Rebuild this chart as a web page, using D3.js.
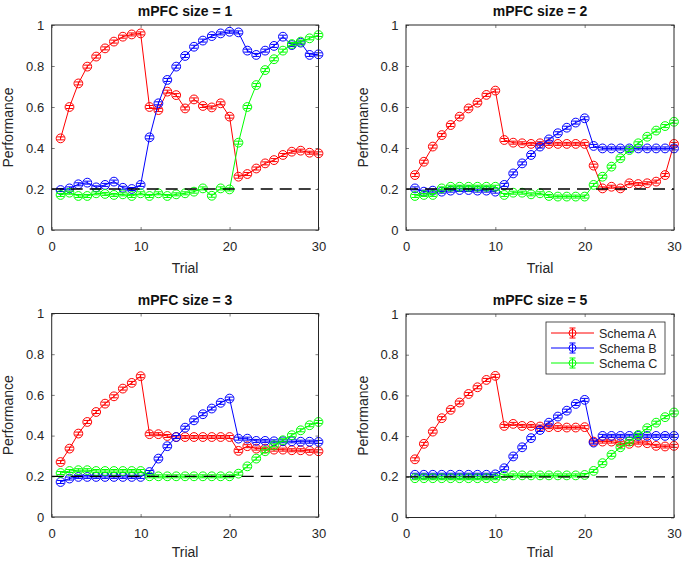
<!DOCTYPE html>
<html><head><meta charset="utf-8">
<script src="https://cdn.jsdelivr.net/npm/d3@7"></script>
<style>body{margin:0;background:#fff}svg{display:block;font-family:"Liberation Sans",Arial,Helvetica,sans-serif}</style>
</head><body><svg id="c" width="685" height="561"></svg>
<script>
const trials = d3.range(1, 31);
const seriesNames = ["Schema A", "Schema B", "Schema C"];
const seriesColors = ["#ff0000", "#0000ff", "#00ff00"];
const panelTitles = ["mPFC size = 1", "mPFC size = 2", "mPFC size = 3", "mPFC size = 5"];
const xTicks = [0, 10, 20, 30];
const yTicks = [0, 0.2, 0.4, 0.6, 0.8, 1];
const chance = 0.2;

const size1A = [0.447,0.60,0.715,0.797,0.846,0.886,0.919,0.943,0.954,0.959,0.60,0.585,0.675,0.658,0.593,0.637,0.605,0.598,0.618,0.553,0.26,0.273,0.30,0.325,0.341,0.366,0.382,0.387,0.377,0.374];
const size1B = [0.195,0.203,0.223,0.231,0.208,0.22,0.236,0.206,0.20,0.22,0.452,0.618,0.732,0.797,0.849,0.894,0.924,0.946,0.959,0.967,0.964,0.875,0.854,0.875,0.898,0.943,0.902,0.914,0.854,0.857];
const size1C = [0.171,0.182,0.166,0.166,0.179,0.176,0.171,0.174,0.166,0.179,0.166,0.179,0.166,0.174,0.179,0.187,0.203,0.167,0.203,0.198,0.426,0.60,0.707,0.78,0.833,0.875,0.907,0.919,0.935,0.951];

const size2A = [0.268,0.333,0.407,0.463,0.512,0.553,0.593,0.621,0.659,0.68,0.439,0.426,0.423,0.42,0.423,0.42,0.42,0.42,0.42,0.42,0.314,0.203,0.211,0.203,0.228,0.224,0.228,0.236,0.268,0.42];
const size2B = [0.203,0.187,0.192,0.187,0.192,0.195,0.195,0.192,0.192,0.187,0.22,0.276,0.325,0.366,0.407,0.442,0.472,0.499,0.524,0.545,0.41,0.398,0.398,0.398,0.398,0.398,0.398,0.398,0.398,0.398];
const size2C = [0.166,0.171,0.171,0.203,0.211,0.211,0.211,0.211,0.211,0.211,0.171,0.182,0.182,0.174,0.179,0.166,0.163,0.163,0.163,0.163,0.22,0.26,0.309,0.35,0.39,0.423,0.455,0.485,0.507,0.528];

const size3A = [0.27,0.336,0.41,0.467,0.516,0.557,0.593,0.631,0.659,0.692,0.407,0.407,0.398,0.393,0.393,0.393,0.393,0.393,0.393,0.393,0.325,0.348,0.336,0.336,0.331,0.331,0.328,0.328,0.325,0.323];
const size3B = [0.172,0.189,0.197,0.197,0.197,0.197,0.197,0.197,0.197,0.197,0.221,0.287,0.348,0.393,0.439,0.475,0.505,0.533,0.561,0.582,0.385,0.385,0.374,0.374,0.372,0.372,0.372,0.370,0.370,0.369];
const size3C = [0.216,0.226,0.23,0.23,0.226,0.226,0.226,0.226,0.226,0.226,0.2,0.2,0.2,0.2,0.2,0.2,0.2,0.2,0.2,0.2,0.213,0.249,0.287,0.323,0.352,0.377,0.402,0.426,0.451,0.467];

const size5A = [0.286,0.362,0.422,0.488,0.529,0.565,0.607,0.64,0.676,0.696,0.45,0.46,0.45,0.45,0.447,0.444,0.444,0.442,0.442,0.444,0.373,0.373,0.373,0.365,0.362,0.368,0.365,0.352,0.349,0.352];
const size5B = [0.21,0.21,0.21,0.21,0.21,0.21,0.21,0.21,0.21,0.212,0.242,0.30,0.345,0.39,0.43,0.466,0.496,0.525,0.558,0.578,0.368,0.401,0.401,0.401,0.401,0.401,0.401,0.401,0.401,0.401];
const size5C = [0.193,0.193,0.193,0.193,0.193,0.193,0.193,0.193,0.193,0.193,0.205,0.207,0.207,0.207,0.207,0.207,0.207,0.207,0.207,0.209,0.229,0.267,0.308,0.345,0.373,0.406,0.439,0.466,0.493,0.516];

const panelData = [[size1A,size1B,size1C],[size2A,size2B,size2C],[size3A,size3B,size3C],[size5A,size5B,size5C]];
const panelBoxes = [
  {x0:51.7, x1:318.5, y0:25, y1:230},
  {x0:406, x1:674, y0:25, y1:230},
  {x0:51.7, x1:318.5, y0:313.5, y1:517},
  {x0:406, x1:674, y0:314, y1:517.5}
];

const svg = d3.select("#c");
const axisColor = "#262626";

panelBoxes.forEach((b, pi) => {
  const x = d3.scaleLinear().domain([0, 30]).range([b.x0, b.x1]);
  const y = d3.scaleLinear().domain([0, 1]).range([b.y1, b.y0]);
  const g = svg.append("g");
  const w = b.x1 - b.x0, h = b.y1 - b.y0;

  const xa = g.append("g").attr("transform", `translate(0,${b.y1})`)
    .call(d3.axisBottom(x).tickValues(xTicks).tickFormat(d3.format("d")).tickSizeInner(-3).tickSizeOuter(0).tickPadding(11.5));
  const xt = g.append("g").attr("transform", `translate(0,${b.y0})`)
    .call(d3.axisTop(x).tickValues(xTicks).tickFormat("").tickSizeInner(-3).tickSizeOuter(0));
  const ya = g.append("g").attr("transform", `translate(${b.x0},0)`)
    .call(d3.axisLeft(y).tickValues(yTicks).tickFormat(d => d === 0 || d === 1 ? String(d) : d3.format(".1f")(d)).tickSizeInner(-3).tickSizeOuter(0).tickPadding(7.5));
  const yr = g.append("g").attr("transform", `translate(${b.x1},0)`)
    .call(d3.axisRight(y).tickValues(yTicks).tickFormat("").tickSizeInner(-3).tickSizeOuter(0));
  [xa, xt, ya, yr].forEach(a => {
    a.select(".domain").remove();
    a.selectAll("line").attr("stroke", axisColor).attr("stroke-width", 0.6);
    a.selectAll("text").attr("fill", axisColor).attr("font-size", 13);
  });

  g.append("text").attr("x", (b.x0 + b.x1) / 2).attr("y", b.y0 - 9)
    .attr("text-anchor", "middle").attr("font-weight", "bold").attr("font-size", 14).attr("fill", "#111")
    .text(panelTitles[pi]);
  g.append("text").attr("x", (b.x0 + b.x1) / 2).attr("y", Math.min(b.y1 + 43, 556.5))
    .attr("text-anchor", "middle").attr("font-size", 14).attr("fill", axisColor).text("Trial");
  g.append("text").attr("transform", `translate(${b.x0 - 38.5},${(b.y0 + b.y1) / 2}) rotate(-90)`)
    .attr("text-anchor", "middle").attr("font-size", 14).attr("fill", axisColor).text("Performance");

  const line = d3.line().x((d, i) => x(trials[i])).y(d => y(d));
  panelData[pi].forEach((vals, si) => {
    const col = seriesColors[si];
    const sg = g.append("g");
    sg.append("path").datum(vals).attr("d", line).attr("fill", "none").attr("stroke", col).attr("stroke-width", 1);
    const pts = sg.selectAll("g.pt").data(vals).join("g").attr("class", "pt")
      .attr("transform", (d, i) => `translate(${x(trials[i])},${y(d)})`);
    pts.append("circle").attr("r", 4.4).attr("fill", "none").attr("stroke", col).attr("stroke-width", 1);
    pts.append("path").attr("d", "M-3.5,-1.5H3.5M-3.5,1.5H3.5M0,-1.5V1.5").attr("stroke", col).attr("stroke-width", 1).attr("fill", "none");
  });

  g.append("line").attr("x1", x(0)).attr("x2", x(30)).attr("y1", y(chance)).attr("y2", y(chance))
    .attr("stroke", "#000").attr("stroke-width", 1.3).attr("stroke-dasharray", "12,7");

  g.append("rect").attr("x", b.x0).attr("y", b.y0).attr("width", w).attr("height", h)
    .attr("fill", "none").attr("stroke", axisColor).attr("stroke-width", 1);
});

const lg = svg.append("g");
const lx0 = 546, ly0 = 322, lw = 119, lh = 52;
lg.append("rect").attr("x", lx0).attr("y", ly0).attr("width", lw).attr("height", lh)
  .attr("fill", "#fff").attr("stroke", axisColor).attr("stroke-width", 0.8);
seriesNames.forEach((name, i) => {
  const yy = ly0 + 11 + i * 15;
  const col = seriesColors[i];
  lg.append("line").attr("x1", lx0 + 5).attr("x2", lx0 + 48).attr("y1", yy).attr("y2", yy).attr("stroke", col).attr("stroke-width", 1);
  lg.append("circle").attr("cx", lx0 + 26.5).attr("cy", yy).attr("r", 3.5).attr("fill", "none").attr("stroke", col);
  lg.append("path").attr("d", `M${lx0 + 23.5},${yy - 5}H${lx0 + 29.5}M${lx0 + 23.5},${yy + 5}H${lx0 + 29.5}M${lx0 + 26.5},${yy - 5}V${yy + 5}`)
    .attr("stroke", col).attr("stroke-width", 1).attr("fill", "none");
  lg.append("text").attr("x", lx0 + 53).attr("y", yy + 4.5).attr("font-size", 12.5).attr("fill", axisColor).text(name);
});
</script></body></html>
